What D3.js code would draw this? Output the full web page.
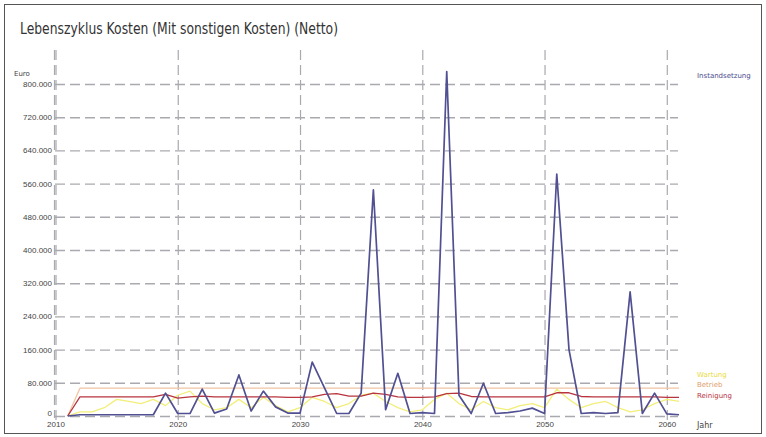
<!DOCTYPE html>
<html>
<head>
<meta charset="utf-8">
<script src="https://cdn.jsdelivr.net/npm/d3@7"></script>
<style>
  body { margin: 0; background: #fff; }
  svg { display: block; font-family: "DejaVu Sans", Verdana, sans-serif; }
</style>
</head>
<body>
<svg id="chart"></svg>
<script>
// years on the x axis
const years = d3.range(2011, 2062);

// Instandsetzung (Euro)
const instandsetzung = [
    0, 3000, 3000, 3000, 3000, 3000, 3000, 3000, 55000, 6000,
    6000, 65000, 7000, 17000, 99000, 12000, 60000, 22000, 7000, 7000,
    130000, 68000, 6000, 6000, 55000, 545000, 15000, 103000, 6000, 8000,
    6000, 830000, 50000, 6000, 79000, 6000, 8000, 12000, 19000, 6000,
    583000, 160000, 6000, 8000, 6000, 8000, 299000, 6000, 55000, 5000,
    3000
];
// Wartung (Euro)
const wartung = [
    0, 10000, 10000, 20000, 40000, 35000, 30000, 40000, 25000, 50000,
    60000, 30000, 15000, 20000, 40000, 20000, 45000, 25000, 10000, 20000,
    45000, 35000, 20000, 30000, 50000, 55000, 35000, 20000, 10000, 15000,
    40000, 55000, 30000, 15000, 35000, 20000, 15000, 25000, 30000, 20000,
    65000, 40000, 20000, 30000, 35000, 20000, 10000, 15000, 30000, 40000,
    35000
];
// Betrieb (Euro)
const betrieb = years.map((y, i) => i === 0 ? 0 : 67000);
// Reinigung (Euro)
const reinigung = [
    0, 46000, 46000, 46000, 46000, 46000, 46000, 46000, 52000, 43000,
    46000, 48000, 46000, 46000, 46000, 46000, 46000, 46000, 45000, 45000,
    46000, 52000, 54000, 48000, 48000, 55000, 52000, 46000, 45000, 45000,
    46000, 54000, 55000, 47000, 46000, 46000, 46000, 46000, 46000, 46000,
    56000, 56000, 47000, 46000, 46000, 46000, 46000, 46000, 46000, 45000,
    45000
];

const xTicks = [2010, 2020, 2030, 2040, 2050, 2060];
const yTicks = d3.range(0, 800001, 80000);

const series = [
    { name: 'Wartung', values: wartung, color: '#f3ee7a', label: '#e8dc40', width: 1.3, labelY: 377 },
    { name: 'Betrieb', values: betrieb, color: '#f2c4a4', label: '#e0a070', width: 1.3, labelY: 387 },
    { name: 'Reinigung', values: reinigung, color: '#b8343f', label: '#b8343f', width: 1.3, labelY: 398 },
    { name: 'Instandsetzung', values: instandsetzung, color: '#505092', label: '#4c4c8e', width: 1.7, labelY: 78 }
];

const width = 766, height = 437;
const svg = d3.select('#chart').attr('width', width).attr('height', height);

svg.append('rect')
    .attr('x', 4.5).attr('y', 4.5)
    .attr('width', 757).attr('height', 429)
    .attr('fill', '#fff')
    .attr('stroke', '#555');

const de = d3.formatLocale({ decimal: ',', thousands: '.', grouping: [3], currency: ['', ' €'] });
const fmt = de.format(',');

const x = d3.scaleLinear().domain([2010, 2060]).range([55.5, 666.8]);
const y = d3.scaleLinear().domain([0, 800000]).range([416, 84]);

// horizontal grid
const gy = svg.append('g')
    .attr('transform', 'translate(55, 0)')
    .call(d3.axisLeft(y).tickValues(yTicks).tickSize(-623).tickFormat(fmt).tickPadding(3));
gy.select('.domain').remove();
gy.selectAll('.tick line')
    .attr('stroke', '#a9a9b0').attr('stroke-width', 1.4).attr('stroke-dasharray', '10,5');
gy.selectAll('.tick text')
    .attr('fill', '#444').style('font-size', '8px')
    .attr('dy', d => d === 0 ? '-0.1em' : '0.32em');

// vertical grid
const gx = svg.append('g')
    .attr('transform', 'translate(0, 420)')
    .call(d3.axisBottom(x).tickValues(xTicks).tickSize(-370).tickFormat(d3.format('d')).tickPadding(1));
gx.select('.domain').remove();
gx.selectAll('.tick line')
    .attr('stroke', '#a9a9b0').attr('stroke-width', 1.2).attr('stroke-dasharray', '10,5');
gx.selectAll('.tick text')
    .attr('fill', '#444').style('font-size', '8px');

// left axis line
svg.append('line')
    .attr('x1', 54.5).attr('x2', 54.5).attr('y1', 50).attr('y2', 418)
    .attr('stroke', '#a9a9b0').attr('stroke-width', 1.2).attr('stroke-dasharray', '10,5');

const line = d3.line()
    .x((d, i) => x(years[i]))
    .y(d => y(d));

series.forEach(s => {
    svg.append('path')
        .datum(s.values)
        .attr('fill', 'none')
        .attr('stroke', s.color)
        .attr('stroke-width', s.width)
        .attr('stroke-linejoin', 'round')
        .attr('d', line);

    svg.append('text')
        .attr('x', 697).attr('y', s.labelY)
        .attr('fill', s.label)
        .style('font-size', '7px')
        .text(s.name);
});

svg.append('text')
    .attr('x', 14).attr('y', 76)
    .attr('fill', '#444').style('font-size', '7px')
    .text('Euro');

svg.append('text')
    .attr('x', 697).attr('y', 428)
    .attr('fill', '#444').style('font-size', '8px')
    .text('Jahr');

svg.append('text')
    .attr('x', 20).attr('y', 34)
    .attr('fill', '#333')
    .style('font-size', '16px')
    .attr('textLength', 318)
    .attr('lengthAdjust', 'spacingAndGlyphs')
    .text('Lebenszyklus Kosten (Mit sonstigen Kosten) (Netto)');
</script>
</body>
</html>
